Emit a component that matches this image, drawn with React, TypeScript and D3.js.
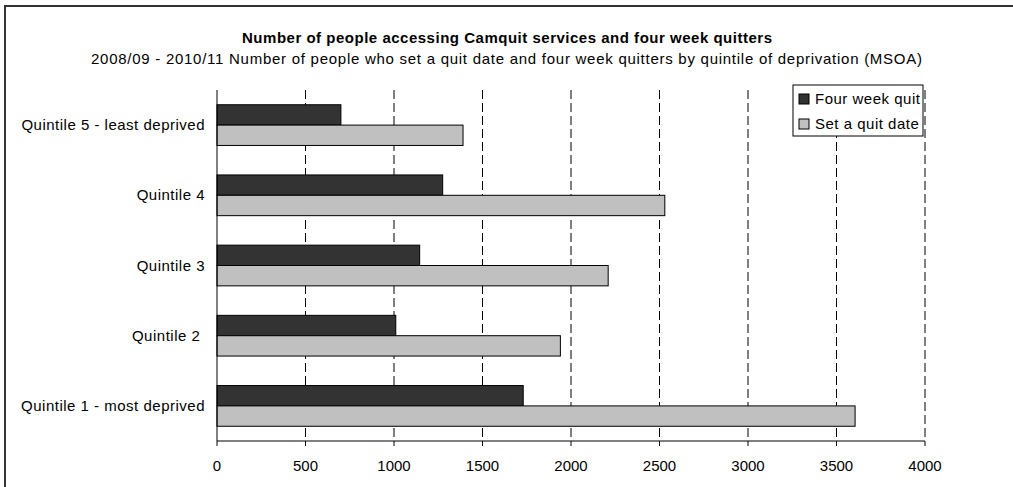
import React from 'react'
import * as d3 from 'd3'

const WIDTH = 1013
const HEIGHT = 487
const PLOT = { left: 217, right: 925, top: 90, bottom: 441 }

const categories = [
  'Quintile 5 - least deprived',
  'Quintile 4',
  'Quintile 3',
  'Quintile 2 ',
  'Quintile 1 - most deprived'
]
const seriesNames = ['Four week quit', 'Set a quit date']
const fourWeekQuit = [700, 1275, 1145, 1010, 1730]
const setQuitDate = [1390, 2530, 2210, 1940, 3605]
const xTicks = [0, 500, 1000, 1500, 2000, 2500, 3000, 3500, 4000]

const colors = { 'Four week quit': '#333333', 'Set a quit date': '#c0c0c0' }
const FONT = '"Liberation Sans", Arial, sans-serif'

const App = () => {
  const x = d3.scaleLinear().domain([0, 4000]).range([PLOT.left, PLOT.right])
  const y = d3
    .scaleBand()
    .domain(categories)
    .range([PLOT.top, PLOT.bottom])
    .paddingInner(0.42)
    .paddingOuter(0.21)
  const ySeries = d3.scaleBand().domain(seriesNames).range([0, y.bandwidth()])
  const values = { 'Four week quit': fourWeekQuit, 'Set a quit date': setQuitDate }

  return (
    <svg
      width={WIDTH}
      height={HEIGHT}
      style={{ position: 'absolute', left: 0, top: 0, background: '#fff' }}
      fontFamily={FONT}
    >
      {/* outer frame, runs off the right and bottom edges */}
      <rect x={5} y={6} width={1100} height={600} fill="#fff" stroke="#333" strokeWidth={2} />

      <text x={242} y={43} fontSize={15} fontWeight="bold" textLength={530} lengthAdjust="spacing">
        Number of people accessing Camquit services and four week quitters
      </text>
      <text x={91} y={64} fontSize={15} textLength={831} lengthAdjust="spacing">
        2008/09 - 2010/11 Number of people who set a quit date and four week quitters by quintile of deprivation (MSOA)
      </text>

      {/* gridlines */}
      {xTicks.slice(1).map(t => (
        <line
          key={'g' + t}
          x1={x(t)}
          x2={x(t)}
          y1={PLOT.top}
          y2={PLOT.bottom}
          stroke="#000"
          strokeDasharray="9,4"
        />
      ))}

      {/* bars */}
      {categories.map((c, i) =>
        seriesNames.map(s => (
          <rect
            key={c + s}
            x={x(0)}
            y={y(c) + ySeries(s)}
            width={x(values[s][i]) - x(0)}
            height={ySeries.bandwidth()}
            fill={colors[s]}
            stroke="#000"
            strokeWidth={1}
          />
        ))
      )}

      {/* axes */}
      <line x1={PLOT.left} x2={PLOT.left} y1={PLOT.top} y2={PLOT.bottom} stroke="#000" />
      <line x1={PLOT.left} x2={PLOT.right} y1={PLOT.bottom} y2={PLOT.bottom} stroke="#000" />
      {xTicks.map(t => (
        <g key={'t' + t}>
          <line x1={x(t)} x2={x(t)} y1={PLOT.bottom} y2={PLOT.bottom + 5} stroke="#000" />
          <text x={x(t)} y={PLOT.bottom + 30} textAnchor="middle" fontSize={15}>
            {t}
          </text>
        </g>
      ))}

      {categories.map(c => (
        <text
          key={'l' + c}
          x={205}
          y={y(c) + y.bandwidth() / 2 + 5}
          textAnchor="end"
          fontSize={15}
          letterSpacing={0.5}
          style={{ whiteSpace: 'pre' }}
        >
          {c}
        </text>
      ))}

      {/* legend */}
      <rect x={793} y={85} width={130} height={51} fill="#fff" stroke="#000" />
      {seriesNames.map((s, i) => (
        <g key={'lg' + s}>
          <rect x={799} y={94 + i * 25} width={10} height={10} fill={colors[s]} stroke="#000" />
          <text x={815} y={104 + i * 25} fontSize={15} letterSpacing={0.5}>
            {s}
          </text>
        </g>
      ))}
    </svg>
  )
}

export default App
